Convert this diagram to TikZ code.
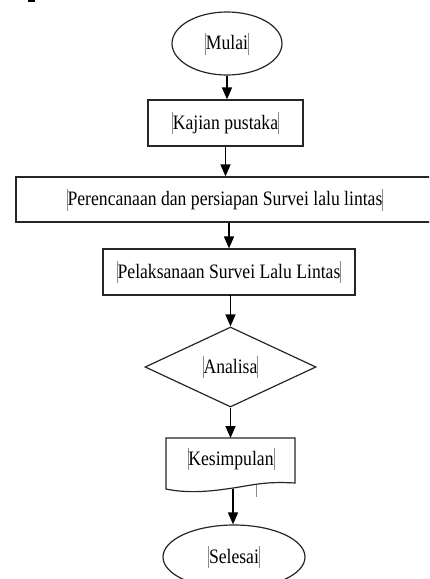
\documentclass[tikz,border=0pt]{standalone}
\usepackage{fontspec}
\setmainfont{Liberation Serif}[FakeStretch=0.86]
\usetikzlibrary{shapes.geometric,arrows.meta}
\newcommand{\tbar}{\textcolor{black!45}{\rule[-5pt]{0.6pt}{22pt}}}
\newcommand{\lbl}[1]{\tbar#1\tbar}
\begin{document}
\begin{tikzpicture}[x=1pt,y=-1pt,
  every node/.style={font=\fontsize{20.5}{24}\selectfont, inner sep=0pt},
  shp/.style={draw=black!85, line width=1.2pt},
  boxnode/.style={shp, rectangle},
  ovalnode/.style={shp, ellipse},
  decnode/.style={shp, diamond},
  arr/.style={line width=1.6pt, -{Triangle[length=12pt,width=10pt]}}]
\useasboundingbox (0,0) rectangle (429,579);
\begin{scope}
\clip (0,0) rectangle (429,579);
\fill (28,0) rectangle (35,2);
\node[ovalnode, minimum width=110pt, minimum height=63pt] (mulai) at (227,43.5) {\lbl{Mulai}};
\node[boxnode, minimum width=155pt, minimum height=46pt] (kajian) at (225.5,123) {\lbl{Kajian pustaka}};
\node[boxnode, minimum width=418pt, minimum height=45pt] (peren) at (225,199.5) {\lbl{Perencanaan dan persiapan Survei lalu lintas}};
\node[boxnode, minimum width=252pt, minimum height=46pt] (pelak) at (229,272) {\lbl{Pelaksanaan Survei Lalu Lintas}};
\node[decnode, minimum width=171pt, minimum height=80pt, aspect=2.14] (analisa) at (230.5,367) {\lbl{Analisa}};
\draw[shp] (166,438) -- (295,438) -- (295,483)
  .. controls (262,481) and (250,486) .. (226,489)
  .. controls (205,492) and (185,493) .. (166,489) -- cycle;
\draw[black!45, line width=0.6pt] (256,485) -- (256,497);
\node (kes) at (231,459) {\lbl{Kesimpulan}};
\coordinate (kesbot) at (233,488.5);
\node[ovalnode, minimum width=142pt, minimum height=64pt] (selesai) at (234,557) {\lbl{Selesai}};
\draw[arr] (mulai.south) -- (mulai.south |- kajian.north);
\draw[arr] (kajian.south) -- (kajian.south |- peren.north);
\draw[arr] (peren.south -| pelak.north) -- (pelak.north);
\draw[arr] (pelak.south) -- (pelak.south -| analisa.north) -- (analisa.north);
\draw[arr] (analisa.south) -- (analisa.south |- 0,438);
\draw[arr] (kesbot) -- (kesbot |- selesai.north);
\end{scope}
\end{tikzpicture}
\end{document}
